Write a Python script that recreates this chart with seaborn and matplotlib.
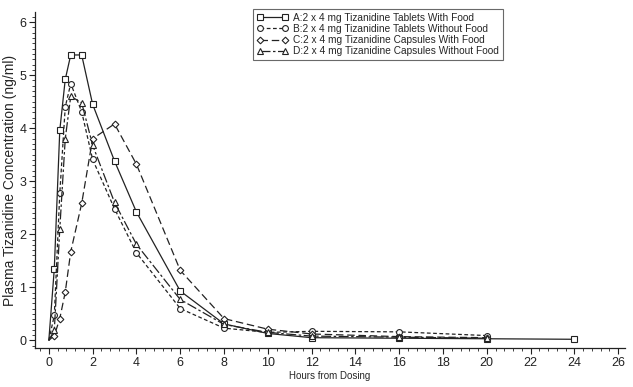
import numpy as np
import pandas as pd
import matplotlib
matplotlib.use("Agg")
import matplotlib.pyplot as plt
from matplotlib.ticker import MultipleLocator
import seaborn as sns

# --- values ---
hours = [0, 0.25, 0.5, 0.75, 1, 1.5, 2, 3, 4, 6, 8, 10, 12, 16, 20, 24]
conc_a = [0, 1.35, 3.96, 4.92, 5.38, 5.38, 4.45, 3.38, 2.42, 0.93, 0.31, 0.13, 0.05, 0.04, 0.03, 0.02]
conc_b = [0, 0.47, 2.77, 4.40, 4.84, 4.31, 3.41, 2.48, 1.65, 0.60, 0.23, 0.15, 0.17, 0.16, 0.09, np.nan]
conc_c = [0, 0.09, 0.41, 0.91, 1.67, 2.58, 3.80, 4.08, 3.32, 1.32, 0.41, 0.21, 0.12, 0.07, 0.05, np.nan]
conc_d = [0, 0.19, 2.10, 3.80, 4.60, 4.48, 3.68, 2.60, 1.81, 0.77, 0.30, 0.15, 0.08, 0.06, 0.04, np.nan]

labels = [
    "A:2 x 4 mg Tizanidine Tablets With Food",
    "B:2 x 4 mg Tizanidine Tablets Without Food",
    "C:2 x 4 mg Tizanidine Capsules With Food",
    "D:2 x 4 mg Tizanidine Capsules Without Food",
]
markers = ["s", "o", "D", "^"]
dashes = ["", (3, 2), (6, 3), (8, 2, 2, 2)]

frames = []
for lab, vals in zip(labels, [conc_a, conc_b, conc_c, conc_d]):
    frames.append(pd.DataFrame({"hours": hours, "conc": vals, "group": lab}))
df = pd.concat(frames).dropna()

sns.set_style("ticks")
plt.rcParams["font.family"] = ["Liberation Sans", "DejaVu Sans"]

fig = plt.figure(figsize=(6.33, 3.87), dpi=100)
ax = fig.add_axes([0.055, 0.10, 0.932, 0.869])

sns.lineplot(data=df, x="hours", y="conc", hue="group", style="group",
             hue_order=labels, style_order=labels,
             palette=["#222222"] * 4, dashes=dashes, markers=markers,
             markersize=4.2, markerfacecolor="white", markeredgecolor="#222222",
             markeredgewidth=0.8, linewidth=0.9, legend=False, ax=ax)

# no marker on the zero point; diamonds a bit smaller
for ln, m in zip(ax.lines[:4], markers):
    ln.set_markevery(slice(1, None))
    if m == "D":
        ln.set_markersize(3.4)

ax.set_xlim(-0.64, 26.3)
ax.set_ylim(-0.15, 6.19)
ax.xaxis.set_major_locator(MultipleLocator(2))
ax.xaxis.set_minor_locator(MultipleLocator(0.4))
ax.yaxis.set_major_locator(MultipleLocator(1))
ax.yaxis.set_minor_locator(MultipleLocator(0.1))
ax.tick_params(which="major", length=4, width=0.8, labelsize=9, colors="#222222", pad=2)
ax.tick_params(which="minor", length=2, width=0.6, colors="#222222")
for s in ["left", "bottom"]:
    ax.spines[s].set_color("#222222")
    ax.spines[s].set_linewidth(0.9)
sns.despine(ax=ax)

ax.set_xlabel("Hours from Dosing", fontsize=7, labelpad=2)
ax.set_ylabel("Plasma Tizanidine Concentration (ng/ml)", fontsize=10, labelpad=2)

leg = ax.legend(ax.lines[:4], labels, loc="upper left", bbox_to_anchor=(0.37, 1.01),
                numpoints=2, handlelength=3.0, fontsize=7.3, frameon=True,
                fancybox=False, edgecolor="#444444", borderpad=0.4,
                labelspacing=0.12, handletextpad=0.5, borderaxespad=0)
leg.get_frame().set_linewidth(0.8)
for h in leg.legend_handles:
    h.set_markevery(None)

fig.savefig("out.png", dpi=100)
